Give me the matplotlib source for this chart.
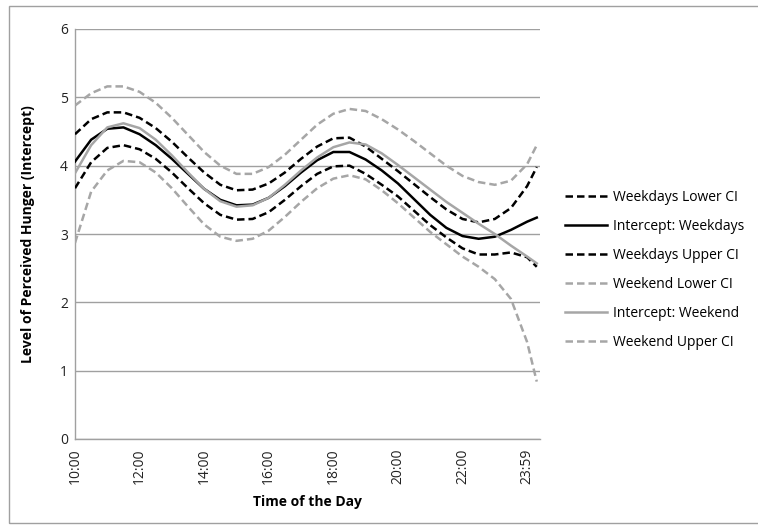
import matplotlib.pyplot as plt
from matplotlib.patches import Rectangle

plt.rcParams["font.family"] = ["Open Sans", "DejaVu Sans"]

# hours since midnight, half-hour steps (last point sits just past the 23:59 label)
HOURS = [10, 10.5, 11, 11.5, 12, 12.5, 13, 13.5, 14, 14.5, 15, 15.5, 16, 16.5,
         17, 17.5, 18, 18.5, 19, 19.5, 20, 20.5, 21, 21.5, 22, 22.5, 23, 23.5,
         24, 24.3]

WEEKDAYS_LOWER = [3.67, 4.05, 4.26, 4.30, 4.24, 4.10, 3.90, 3.67, 3.45, 3.28,
                  3.21, 3.22, 3.32, 3.50, 3.70, 3.88, 3.99, 4.00, 3.88, 3.72,
                  3.55, 3.34, 3.13, 2.95, 2.79, 2.70, 2.70, 2.73, 2.66, 2.52]
WEEKDAYS = [4.06, 4.38, 4.54, 4.56, 4.46, 4.30, 4.10, 3.88, 3.66, 3.50,
            3.42, 3.43, 3.53, 3.70, 3.90, 4.08, 4.20, 4.20, 4.09, 3.93,
            3.74, 3.51, 3.28, 3.09, 2.97, 2.93, 2.96, 3.06, 3.18, 3.24]
WEEKDAYS_UPPER = [4.46, 4.68, 4.78, 4.78, 4.70, 4.55, 4.35, 4.12, 3.90, 3.72,
                  3.64, 3.65, 3.74, 3.90, 4.10, 4.28, 4.40, 4.41, 4.28, 4.10,
                  3.92, 3.73, 3.54, 3.36, 3.22, 3.17, 3.22, 3.38, 3.70, 3.98]
WEEKEND_LOWER = [2.87, 3.62, 3.93, 4.07, 4.05, 3.90, 3.67, 3.40, 3.14, 2.96,
                 2.90, 2.93, 3.05, 3.25, 3.47, 3.67, 3.81, 3.86, 3.80, 3.64,
                 3.45, 3.24, 3.03, 2.85, 2.67, 2.52, 2.34, 2.05, 1.42, 0.84]
WEEKEND = [3.89, 4.30, 4.56, 4.62, 4.55, 4.38, 4.15, 3.90, 3.66, 3.48,
           3.40, 3.42, 3.53, 3.72, 3.93, 4.12, 4.27, 4.34, 4.31, 4.18,
           4.01, 3.83, 3.65, 3.47, 3.31, 3.15, 3.00, 2.83, 2.67, 2.57]
WEEKEND_UPPER = [4.88, 5.06, 5.16, 5.16, 5.08, 4.92, 4.70, 4.45, 4.20, 4.00,
                 3.88, 3.88, 3.98, 4.16, 4.38, 4.60, 4.76, 4.83, 4.80, 4.68,
                 4.53, 4.36, 4.18, 4.00, 3.85, 3.76, 3.72, 3.78, 4.02, 4.30]

TICK_HOURS = [10, 12, 14, 16, 18, 20, 22, 24]
TICK_LABELS = ["10:00", "12:00", "14:00", "16:00", "18:00", "20:00", "22:00", "23:59"]

BLACK = "#000000"
GREY = "#a6a6a6"
GRID = "#a0a0a0"

SERIES = [
    ("Weekdays Lower CI", WEEKDAYS_LOWER, BLACK, "--"),
    ("Intercept: Weekdays", WEEKDAYS, BLACK, "-"),
    ("Weekdays Upper CI", WEEKDAYS_UPPER, BLACK, "--"),
    ("Weekend Lower CI", WEEKEND_LOWER, GREY, "--"),
    ("Intercept: Weekend", WEEKEND, GREY, "-"),
    ("Weekend Upper CI", WEEKEND_UPPER, GREY, "--"),
]

fig = plt.figure(figsize=(7.58, 5.25), dpi=100)
ax = fig.add_axes([75 / 758, 1 - 439 / 525, 465 / 758, 410 / 525])

for label, values, color, style in SERIES:
    line, = ax.plot(HOURS, values, color=color, linestyle=style, linewidth=1.8,
                    label=label, zorder=3)
    if style == "--":
        line.set_dashes((3.0, 1.6))

ax.set_xlim(10, 24.4)
ax.set_ylim(0, 6)
ax.set_yticks(range(0, 7))
ax.set_xticks(TICK_HOURS)
ax.set_xticklabels(TICK_LABELS, rotation=90)
ax.tick_params(axis="both", length=0, labelsize=10, colors="#222222")
ax.tick_params(axis="x", pad=7)
ax.tick_params(axis="y", pad=5)
ax.grid(axis="y", color=GRID, linewidth=1.0)
ax.set_axisbelow(True)
for side in ("top", "right"):
    ax.spines[side].set_visible(False)
for side in ("left", "bottom"):
    ax.spines[side].set_color(GRID)
    ax.spines[side].set_linewidth(1.0)

ax.set_ylabel("Level of Perceived Hunger (Intercept)", fontsize=10, fontweight="bold")
ax.yaxis.set_label_coords(-0.086, 0.5)
fig.text(307 / 758, 1 - 502 / 525, "Time of the Day", fontsize=10, fontweight="bold",
         ha="center", va="center")

ax.legend(loc="center left", bbox_to_anchor=(565 / 758, 1 - 270 / 525),
          bbox_transform=fig.transFigure, frameon=False, fontsize=10,
          handlelength=3.0, handletextpad=0.45, labelspacing=1.0,
          borderpad=0, borderaxespad=0)

# outer chart frame
fig.patches.append(Rectangle((9 / 758, 1 - 523 / 525), 760 / 758, 517 / 525,
                             transform=fig.transFigure, fill=False,
                             edgecolor=GRID, linewidth=1.0))

fig.savefig("out.png", dpi=100)
